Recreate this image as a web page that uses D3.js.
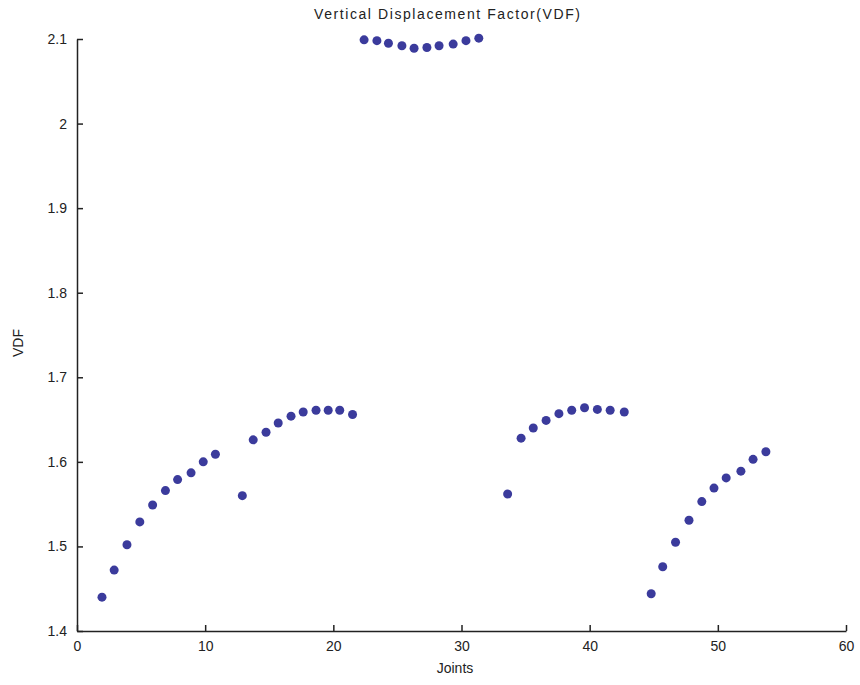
<!DOCTYPE html>
<html>
<head>
<meta charset="utf-8">
<script src="https://cdn.jsdelivr.net/npm/d3@7"></script>
<style>
  body { margin: 0; background: #fff; }
  text { font-family: "Liberation Sans", Arial, sans-serif; fill: #222; }
</style>
</head>
<body>
<div id="chart"></div>
<script>
// joint positions and VDF values
const joints = [1.95, 2.9, 3.9, 4.9, 5.9, 6.9, 7.85, 8.9, 9.85, 10.8,
                12.9, 13.75, 14.75, 15.7, 16.7, 17.65, 18.65, 19.6, 20.5, 21.5,
                22.4, 23.4, 24.3, 25.35, 26.3, 27.3, 28.25, 29.35, 30.35, 31.35,
                33.6, 34.65, 35.6, 36.6, 37.6, 38.6, 39.6, 40.6, 41.6, 42.7,
                44.8, 45.7, 46.7, 47.75, 48.75, 49.7, 50.65, 51.8, 52.75, 53.75];
const vdf = [1.440, 1.472, 1.502, 1.529, 1.549, 1.566, 1.579, 1.587, 1.600, 1.609,
             1.560, 1.626, 1.635, 1.646, 1.654, 1.659, 1.661, 1.661, 1.661, 1.656,
             2.099, 2.098, 2.095, 2.092, 2.089, 2.090, 2.092, 2.094, 2.098, 2.101,
             1.562, 1.628, 1.640, 1.649, 1.657, 1.661, 1.664, 1.662, 1.661, 1.659,
             1.444, 1.476, 1.505, 1.531, 1.553, 1.569, 1.581, 1.589, 1.603, 1.612];
const xTicks = [0, 10, 20, 30, 40, 50, 60];
const yTicks = [1.4, 1.5, 1.6, 1.7, 1.8, 1.9, 2, 2.1];

const width = 860, height = 685;
const margin = {top: 39, right: 14, bottom: 54, left: 77};

const svg = d3.select("#chart").append("svg")
  .attr("width", width)
  .attr("height", height);

const x = d3.scaleLinear()
  .domain([0, 60])
  .range([margin.left, width - margin.right]);

const y = d3.scaleLinear()
  .domain([1.4, 2.1])
  .range([height - margin.bottom, margin.top]);

// x axis, ticks pointing inward
const xAxis = svg.append("g")
  .attr("transform", "translate(0," + (height - margin.bottom) + ")")
  .call(d3.axisBottom(x).tickValues(xTicks).tickSizeInner(-6).tickSizeOuter(0).tickPadding(10).tickFormat(d3.format("d")));

// y axis
const yAxis = svg.append("g")
  .attr("transform", "translate(" + margin.left + ",0)")
  .call(d3.axisLeft(y).tickValues(yTicks).tickSizeInner(-6).tickSizeOuter(0).tickPadding(10).tickFormat(d => String(d)));

[xAxis, yAxis].forEach(g => {
  g.select(".domain").attr("stroke", "#222").attr("stroke-width", 1.5);
  g.selectAll(".tick line").attr("stroke", "#222").attr("stroke-width", 1.5);
  g.selectAll(".tick text")
    .style("font-family", "'Liberation Sans', Arial, sans-serif")
    .style("font-size", "14px")
    .attr("fill", "#222");
});

// points
svg.append("g")
  .selectAll("circle")
  .data(joints.map((j, i) => ({j: j, v: vdf[i]})))
  .join("circle")
  .attr("cx", d => x(d.j))
  .attr("cy", d => y(d.v))
  .attr("r", 4.5)
  .attr("fill", "#3b3b9c");

// title and axis labels
svg.append("text")
  .attr("x", 447)
  .attr("y", 19)
  .attr("text-anchor", "middle")
  .style("font-size", "14px")
  .attr("textLength", 266)
  .text("Vertical Displacement Factor(VDF)");

svg.append("text")
  .attr("x", 455)
  .attr("y", 673)
  .attr("text-anchor", "middle")
  .style("font-size", "14px")
  .text("Joints");

svg.append("text")
  .attr("transform", "translate(23,343) rotate(-90)")
  .attr("text-anchor", "middle")
  .style("font-size", "14px")
  .text("VDF");
</script>
</body>
</html>
